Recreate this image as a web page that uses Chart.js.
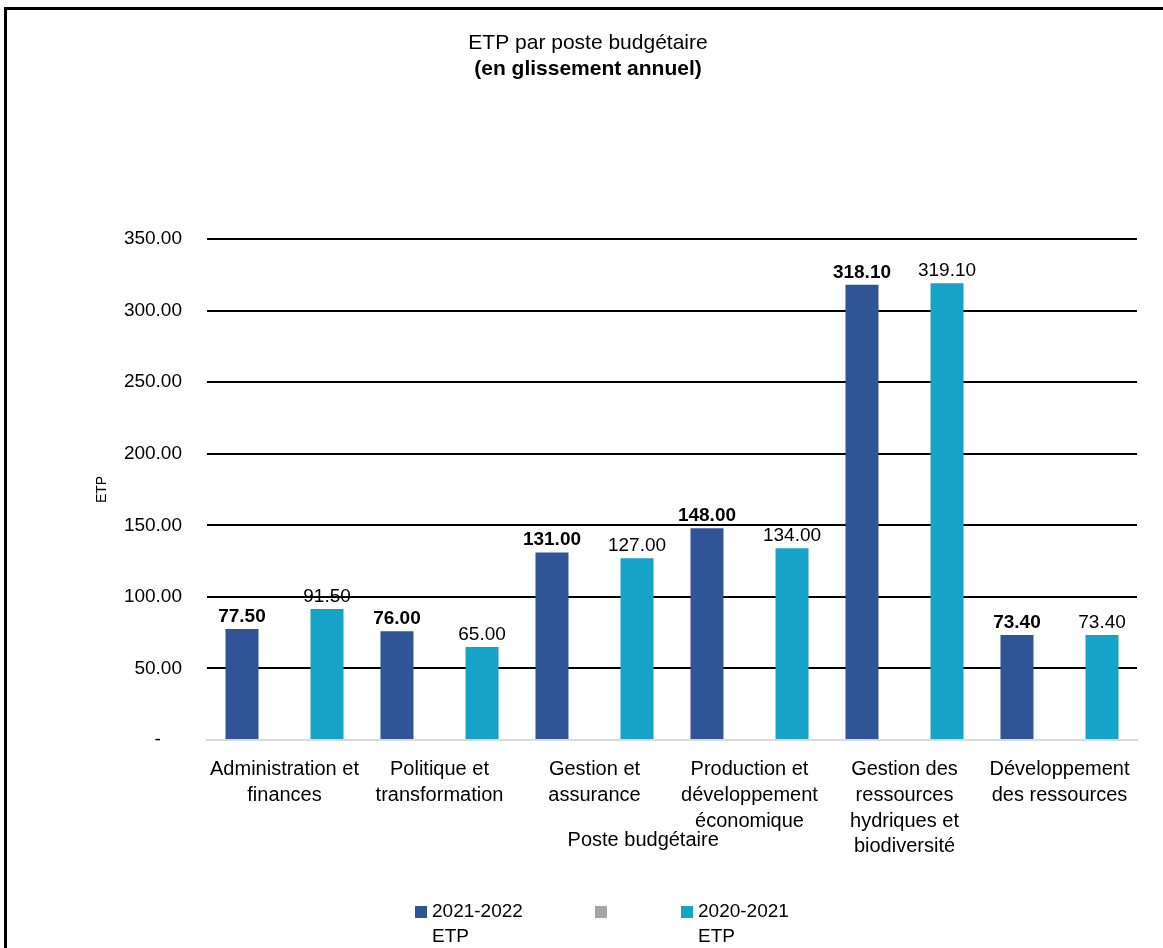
<!DOCTYPE html>
<html lang="fr">
<head>
<meta charset="utf-8">
<title>ETP par poste budgétaire</title>
<script src="https://cdn.jsdelivr.net/npm/chart.js@4.4.1/dist/chart.umd.min.js"></script>
<style>
  html, body { margin: 0; padding: 0; background: #fff; overflow: hidden; }
  #cadre { position: absolute; left: 4px; top: 7px; width: 1300px; height: 1100px;
           border-left: 3px solid #000; border-top: 3px solid #000; }
  #zone { position: absolute; left: 0; top: 0; width: 1163px; height: 948px; }
  .leyenda { position: absolute; top: 898px; font: 19px "Liberation Sans", Arial, sans-serif;
             color: #000; line-height: 25px; }
  .leyenda .caja { display: inline-block; width: 12px; height: 12px; margin-right: 5px; vertical-align: -1px; }
</style>
</head>
<body>
<div id="cadre"></div>
<div id="zone"><canvas id="grafico"></canvas></div>
<div id="leyendas"></div>
<script>
// Datos del gráfico
const categorias = [
  ['Administration et', 'finances'],
  ['Politique et', 'transformation'],
  ['Gestion et', 'assurance'],
  ['Production et', 'développement', 'économique'],
  ['Gestion des', 'ressources', 'hydriques et', 'biodiversité'],
  ['Développement', 'des ressources']
];
const etp2122 = [77.5, 76, 131, 148, 318.1, 73.4];
const vacia = [null, null, null, null, null, null];
const etp2021 = [91.5, 65, 127, 134, 319.1, 73.4];
const nombresSeries = [['2021-2022', 'ETP'], [''], ['2020-2021', 'ETP']];
const coloresSeries = ['#2F5597', '#A5A5A5', '#17A2C8'];
const tituloEjeX = 'Poste budgétaire';

const fuente = '"Liberation Sans", Arial, sans-serif';
Chart.defaults.font.family = fuente;
Chart.defaults.color = '#000';

// Plugin para escribir los valores encima de las barras
const etiquetasPlugin = {
  id: 'etiquetas',
  afterDatasetsDraw(chart) {
    const ctx = chart.ctx;
    chart.data.datasets.forEach((ds, i) => {
      const meta = chart.getDatasetMeta(i);
      meta.data.forEach((barra, j) => {
        const v = ds.data[j];
        if (v == null) return;
        ctx.save();
        ctx.font = (i === 0 ? 'bold ' : '') + '19px ' + fuente;
        ctx.fillStyle = '#000';
        ctx.textAlign = 'center';
        ctx.textBaseline = 'alphabetic';
        ctx.fillText(v.toFixed(2), barra.x, barra.y - 7);
        ctx.restore();
      });
    });
  }
};

// Título del eje X (un poco a la izquierda del centro, como en Excel)
const tituloXPlugin = {
  id: 'tituloX',
  afterDraw(chart) {
    const a = chart.chartArea;
    const ctx = chart.ctx;
    ctx.save();
    ctx.font = '20px ' + fuente;
    ctx.fillStyle = '#000';
    ctx.textAlign = 'center';
    ctx.textBaseline = 'middle';
    ctx.fillText(tituloEjeX, a.left + (a.right - a.left) * 0.469, a.bottom + 100);
    ctx.restore();
  }
};

const datos = {
  labels: categorias,
  datasets: [
    { label: nombresSeries[0].join(' '), data: etp2122, backgroundColor: coloresSeries[0] },
    { label: '', data: vacia, backgroundColor: coloresSeries[1] },
    { label: nombresSeries[2].join(' '), data: etp2021, backgroundColor: coloresSeries[2] }
  ]
};

new Chart(document.getElementById('grafico'), {
  type: 'bar',
  data: datos,
  options: {
    responsive: true,
    maintainAspectRatio: false,
    animation: false,
    datasets: { bar: { categoryPercentage: 0.823, barPercentage: 0.776 } },
    layout: { padding: { top: 21, left: 39, right: 26, bottom: 96 } },
    plugins: {
      legend: { display: false },
      tooltip: { enabled: false },
      title: {
        display: true,
        text: 'ETP par poste budgétaire',
        font: { size: 21, weight: 'normal' },
        padding: { top: 10, bottom: 0 }
      },
      subtitle: {
        display: true,
        text: '(en glissement annuel)',
        color: '#000',
        font: { size: 21, weight: 'bold' },
        padding: { top: 0, bottom: 157.6 }
      }
    },
    scales: {
      x: {
        grid: { display: false, drawTicks: false },
        border: { display: true, color: '#D9D9D9', width: 2 },
        ticks: { font: { size: 20, lineHeight: 1.28 }, padding: 17, maxRotation: 0, autoSkip: false },
        title: { display: false },
        afterFit: (escala) => { escala.height = 112; }
      },
      y: {
        min: 0,
        max: 350,
        border: { display: false },
        grid: {
          drawTicks: false,
          lineWidth: 2,
          color: (c) => (c.tick && c.tick.value === 0 ? 'rgba(0,0,0,0)' : '#000')
        },
        ticks: {
          stepSize: 50,
          padding: 25,
          font: { size: 19 },
          callback: (v) => (v === 0 ? '-    ' : v.toFixed(2))
        },
        title: {
          display: true,
          text: 'ETP',
          font: { size: 14 },
          padding: { top: 54.6, bottom: 4 }
        },
        afterFit: (escala) => { escala.width = 168; }
      }
    }
  },
  plugins: [etiquetasPlugin, tituloXPlugin]
});

// Leyenda en HTML (los textos se parten en dos líneas como en el original)
const posicionesLeyenda = [415, 595, 681];
const cont = document.getElementById('leyendas');
nombresSeries.forEach((nombre, i) => {
  const d = document.createElement('div');
  d.className = 'leyenda';
  d.style.left = posicionesLeyenda[i] + 'px';
  d.innerHTML = '<span class="caja" style="background:' + coloresSeries[i] + '"></span>' +
    nombre[0] + (nombre[1] ? '<br><span style="padding-left:17px">' + nombre[1] + '</span>' : '');
  cont.appendChild(d);
});
</script>
</body>
</html>
